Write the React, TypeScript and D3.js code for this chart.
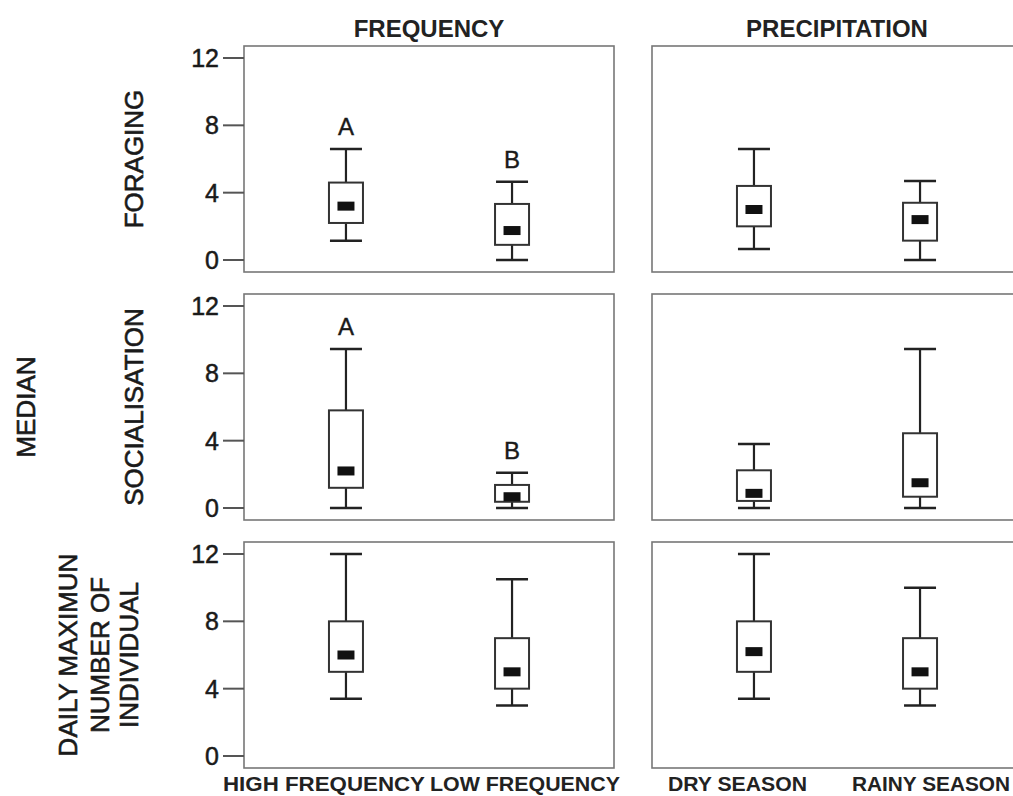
import React from 'react'
import * as d3 from 'd3'

// row and column labels
const rowLabels = ['FORAGING', 'SOCIALISATION', 'DAILY MAXIMUN|NUMBER OF|INDIVIDUAL']
const columnTitles = ['FREQUENCY', 'PRECIPITATION']
const frequencyCats = ['HIGH FREQUENCY', 'LOW FREQUENCY']
const precipitationCats = ['DRY SEASON', 'RAINY SEASON']
const yTicks = [0, 4, 8, 12]

// [min, q1, median, q3, max] per category
const foragingFrequency = [[1.15, 2.2, 3.2, 4.6, 6.6], [0, 0.9, 1.75, 3.33, 4.65]]
const foragingPrecipitation = [[0.65, 2.0, 3.0, 4.4, 6.6], [0, 1.15, 2.4, 3.4, 4.7]]
const socialFrequency = [[0, 1.2, 2.2, 5.8, 9.45], [0, 0.37, 0.67, 1.37, 2.1]]
const socialPrecipitation = [[0, 0.42, 0.87, 2.24, 3.8], [0, 0.67, 1.5, 4.44, 9.45]]
const dailyFrequency = [[3.4, 5, 6, 8, 12], [3, 4, 5, 7, 10.5]]
const dailyPrecipitation = [[3.4, 5, 6.2, 8, 12], [3, 4, 5, 7, 10]]

// significance letters (frequency column only)
const foragingLetters = ['A', 'B']
const socialLetters = ['A', 'B']

const panels = [
  [foragingFrequency, foragingPrecipitation],
  [socialFrequency, socialPrecipitation],
  [dailyFrequency, dailyPrecipitation],
]
const letters = [[foragingLetters, null], [socialLetters, null], [null, null]]

const panelLeft = [244, 652]
const rowTop = [46, 294, 542]
const panelW = 370
const panelH = 226
const font = '"Liberation Sans", Arial, sans-serif'

function BoxPanel({ data, cats, letter, x0, y0, showAxis }) {
  const x = d3.scalePoint().domain(cats).range([0, panelW]).padding(0.614)
  const y = d3.scaleLinear().domain([0, 12]).range([panelH - 12, 12])
  const boxW = 34, capW = 32, medW = 17, medH = 9
  return (
    <g transform={`translate(${x0},${y0})`}>
      <rect x={0} y={0} width={panelW} height={panelH} fill="#fff" stroke="#777" strokeWidth={1.6} />
      {showAxis && yTicks.map(t => (
        <g key={t} transform={`translate(0,${y(t)})`}>
          <line x1={-21} x2={0} stroke="#555" strokeWidth={2} />
          <text x={-25} dy="0.36em" textAnchor="end" fontSize={25} fill="#1a1a1a" stroke="#1a1a1a" strokeWidth={0.5} fontFamily={font}>{t}</text>
        </g>
      ))}
      {data.map((d, i) => {
        const cx = x(cats[i])
        const [mn, q1, md, q3, mx] = d
        return (
          <g key={i}>
            <line x1={cx} x2={cx} y1={y(mx)} y2={y(q3)} stroke="#222" strokeWidth={2.2} />
            <line x1={cx} x2={cx} y1={y(q1)} y2={y(mn)} stroke="#222" strokeWidth={2.2} />
            <line x1={cx - capW / 2} x2={cx + capW / 2} y1={y(mx)} y2={y(mx)} stroke="#222" strokeWidth={2.5} />
            <line x1={cx - capW / 2} x2={cx + capW / 2} y1={y(mn)} y2={y(mn)} stroke="#222" strokeWidth={2.5} />
            <rect x={cx - boxW / 2} y={y(q3)} width={boxW} height={y(q1) - y(q3)} fill="#fff" stroke="#333" strokeWidth={2} />
            <rect x={cx - medW / 2} y={y(md) - medH / 2} width={medW} height={medH} fill="#111" />
            {letter && (
              <text x={cx} y={y(mx) - 14} textAnchor="middle" fontSize={24} fill="#1a1a1a" stroke="#1a1a1a" strokeWidth={0.4} fontFamily={font}>{letter[i]}</text>
            )}
          </g>
        )
      })}
    </g>
  )
}

export default function App() {
  const catSets = [frequencyCats, precipitationCats]
  // bottom label placement: [x start, text length]
  const bottomLabels = [
    [[223, 202], [430, 190]],
    [[668, 139], [852, 158]],
  ]
  return (
    <div style={{ position: 'absolute', left: 0, top: 0 }}>
      <svg width={1013} height={796} style={{ display: 'block', background: '#fff' }}>
        {columnTitles.map((t, c) => (
          <text key={t} x={panelLeft[c] + panelW / 2} y={37} textAnchor="middle" fontSize={24} fontWeight="bold" fill="#222" fontFamily={font}>{t}</text>
        ))}
        {panels.map((row, r) => row.map((data, c) => (
          <BoxPanel key={`${r}-${c}`} data={data} cats={catSets[c]} letter={letters[r][c]}
            x0={panelLeft[c]} y0={rowTop[r]} showAxis={c === 0} />
        )))}
        {rowLabels.map((lab, r) => {
          const lines = lab.split('|')
          const cy = rowTop[r] + panelH / 2
          const xs = lines.length === 1 ? [133] : [67, 99, 128]
          return lines.map((ln, k) => (
            <text key={ln} transform={`translate(${xs[k] + 9.5},${cy}) rotate(-90)`} textAnchor="middle" fontSize={26} fill="#1a1a1a" stroke="#1a1a1a" strokeWidth={0.6} fontFamily={font}>{ln}</text>
          ))
        })}
        <text transform={`translate(${35},${407}) rotate(-90)`} textAnchor="middle" fontSize={26} fill="#1a1a1a" stroke="#1a1a1a" strokeWidth={0.6} fontFamily={font}>MEDIAN</text>
        {catSets.map((cats, c) => cats.map((cat, i) => (
          <text key={cat} x={bottomLabels[c][i][0]} y={791} textLength={bottomLabels[c][i][1]} lengthAdjust="spacingAndGlyphs"
            fontSize={20.5} fontWeight="bold" fill="#222" fontFamily={font}>{cat}</text>
        )))}
      </svg>
    </div>
  )
}
